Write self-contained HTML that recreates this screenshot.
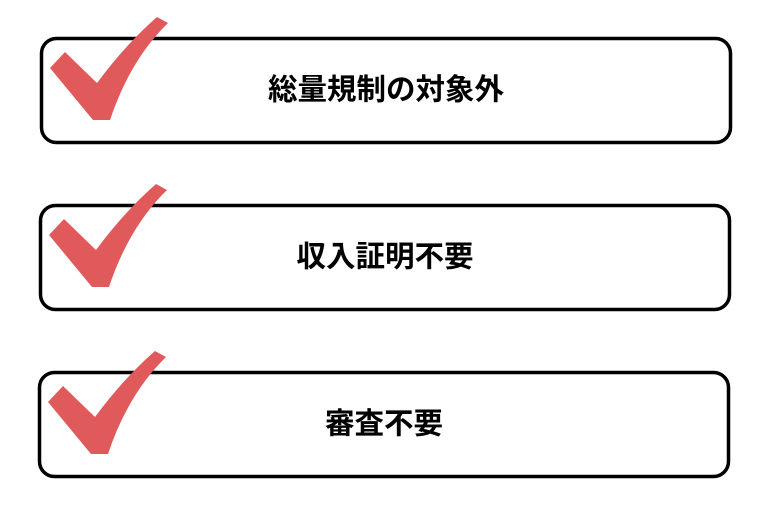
<!DOCTYPE html>
<html><head><meta charset="utf-8"><style>
html,body{margin:0;padding:0;background:#fff;}
svg{display:block}
text{font-family:"Liberation Sans","Noto Sans CJK JP",sans-serif;font-weight:bold;font-size:29.5px;fill:#000}
</style></head><body>
<svg width="768" height="512" viewBox="0 0 768 512">
<defs>
<path id="chk" d="M50 68 L65 52 L97 83 Q125 45 157 17 L168 23 Q130 60 110 120 L93 120 Z" fill="#e05a5c"/>
</defs>
<rect x="41.5" y="38.5" width="689" height="104" rx="15" fill="#fff" stroke="#000" stroke-width="3.5"/>
<use href="#chk"/>
<text x="386" y="99.5" text-anchor="middle">総量規制の対象外</text>
<rect x="40.5" y="205.5" width="689" height="104" rx="15" fill="#fff" stroke="#000" stroke-width="3.5"/>
<use href="#chk" transform="translate(-1,167)"/>
<text x="385" y="266.5" text-anchor="middle">収入証明不要</text>
<rect x="39.5" y="372.5" width="689" height="104" rx="15" fill="#fff" stroke="#000" stroke-width="3.5"/>
<use href="#chk" transform="translate(-2,334)"/>
<text x="384" y="433.5" text-anchor="middle">審査不要</text>
</svg>
</body></html>
